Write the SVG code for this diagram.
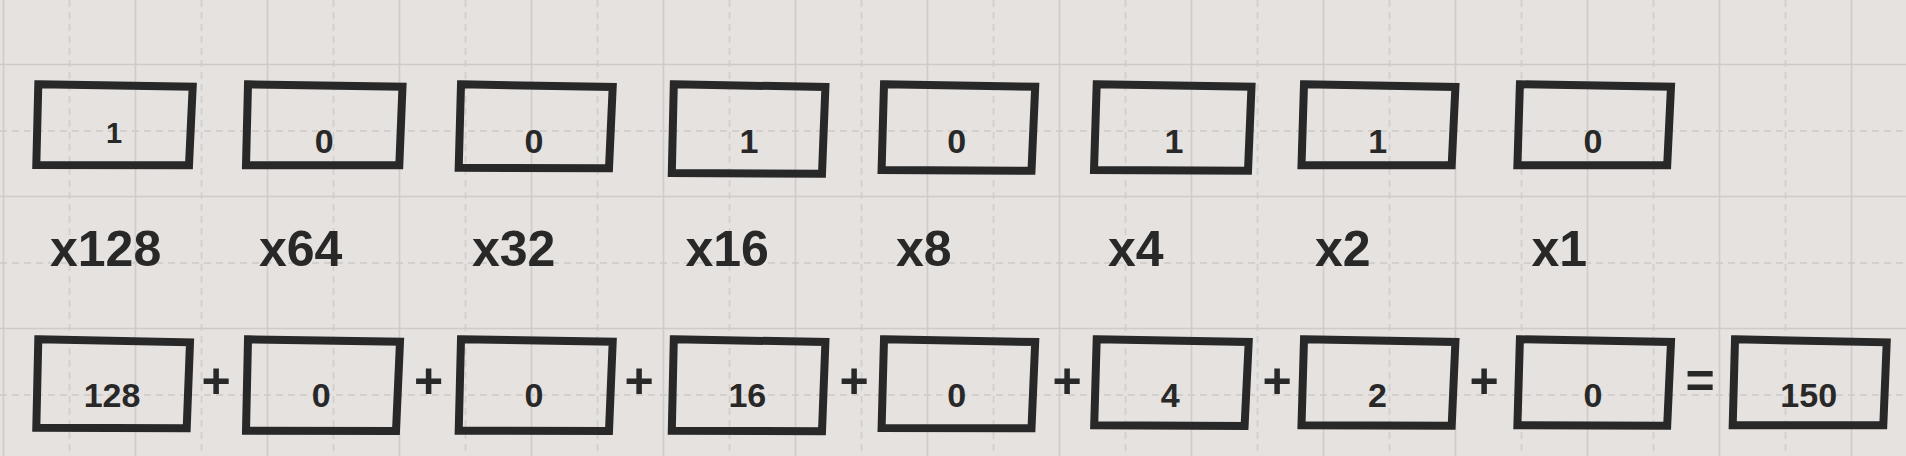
<svg xmlns="http://www.w3.org/2000/svg" width="1906" height="456" viewBox="0 0 1906 456">
<style>
.bg{fill:#e6e2e0}
.gs{stroke:#d0cbc9;stroke-width:1.6;fill:none}
.gd{stroke:#d3cfcd;stroke-width:1.8;stroke-dasharray:7 5;fill:none}
.box{fill:none;stroke:#282828;stroke-width:8;stroke-linejoin:miter}
.v{font-family:"Liberation Sans",Arial,Helvetica,sans-serif;font-weight:bold;font-size:34px;fill:#282828;text-anchor:middle}
.lbl{font-family:"Liberation Sans",Arial,Helvetica,sans-serif;font-weight:bold;font-size:50px;fill:#282828}
.op{font-family:"Liberation Sans",Arial,Helvetica,sans-serif;font-weight:bold;font-size:50px;fill:#282828;text-anchor:middle}
</style>
<rect class="bg" x="0" y="0" width="1906" height="456"/>
<g id="grid">
<path class="gd" d="M69.5 0V456M201.5 0V456M333.5 0V456M465.5 0V456M597.5 0V456M729.5 0V456M861.5 0V456M993.5 0V456M1125.5 0V456M1257.5 0V456M1389.5 0V456M1521.5 0V456M1653.5 0V456M1785.5 0V456"/>
<path class="gd" d="M0 131H1906M0 263H1906M0 395H1906"/>
<path class="gs" d="M3.5 0V456M135.5 0V456M267.5 0V456M399.5 0V456M531.5 0V456M663.5 0V456M795.5 0V456M927.5 0V456M1059.5 0V456M1191.5 0V456M1323.5 0V456M1455.5 0V456M1587.5 0V456M1719.5 0V456M1851.5 0V456"/>
<path class="gs" d="M0 64.5H1906M0 196.5H1906M0 328.5H1906"/>
</g>
<g id="bits">
<g id="t1"><polygon class="box" points="38.3,84.3 192.7,86.7 189,165.3 36.3,165"/><text class="v" x="114" y="143" style="font-size:29px">1</text></g>
<g id="t2"><polygon class="box" points="248,84.3 402.5,86.7 399.3,165.3 246,165.3"/><text class="v" x="324.3" y="152.7">0</text></g>
<g id="t3"><polygon class="box" points="461,84.3 612.7,87 609,168.3 458.7,167.7"/><text class="v" x="534" y="152.7">0</text></g>
<g id="t4"><polygon class="box" points="673.8,84.3 825.4,87 822,173.7 671.8,173"/><text class="v" x="749" y="152.7">1</text></g>
<g id="t5"><polygon class="box" points="884,84.3 1035.2,86.7 1031.5,170.7 881.6,170"/><text class="v" x="956.7" y="152.7">0</text></g>
<g id="t6"><polygon class="box" points="1096.7,84.3 1251.5,86.7 1248,170.7 1094,170"/><text class="v" x="1174" y="152.7">1</text></g>
<g id="t7"><polygon class="box" points="1304,84.3 1455.4,87 1451.7,165.3 1301.5,165.3"/><text class="v" x="1377.6" y="152.7">1</text></g>
<g id="t8"><polygon class="box" points="1519.9,84.3 1671,86.7 1667.2,165.3 1517.4,165.3"/><text class="v" x="1593" y="152.7">0</text></g>
</g>
<g id="weights">
<text class="lbl" x="50" y="266">x128</text>
<text class="lbl" x="259" y="266">x64</text>
<text class="lbl" x="472" y="266">x32</text>
<text class="lbl" x="685.5" y="266">x16</text>
<text class="lbl" x="896" y="266">x8</text>
<text class="lbl" x="1108" y="266">x4</text>
<text class="lbl" x="1315" y="266">x2</text>
<text class="lbl" x="1531.5" y="266">x1</text>
</g>
<g id="sums">
<g id="b1"><polygon class="box" points="38.3,339.3 190,342.3 186.7,428.3 36.3,427.7"/><text class="v" x="112" y="406.6">128</text></g>
<g id="b2"><polygon class="box" points="248,339.3 400,341.7 396,431 246,430.7"/><text class="v" x="321.2" y="406.6">0</text></g>
<g id="b3"><polygon class="box" points="461,339.3 612.7,341.7 609,431 458.7,430.7"/><text class="v" x="533.9" y="406.6">0</text></g>
<g id="b4"><polygon class="box" points="673.8,339.3 825.4,342 822,431.3 671.8,430.7"/><text class="v" x="747.3" y="406.6">16</text></g>
<g id="b5"><polygon class="box" points="884,339.3 1035.2,342 1031.5,428.3 881.6,428"/><text class="v" x="956.7" y="406.6">0</text></g>
<g id="b6"><polygon class="box" points="1096.7,339.3 1248.7,342 1244.6,426 1094.2,425.3"/><text class="v" x="1170.2" y="406.6">4</text></g>
<g id="b7"><polygon class="box" points="1304,339.3 1455.4,342 1451.7,425.7 1301.5,425.3"/><text class="v" x="1377.4" y="406.6">2</text></g>
<g id="b8"><polygon class="box" points="1519.9,339.3 1671,342 1667.2,425.7 1517.4,425.3"/><text class="v" x="1593" y="406.6">0</text></g>
<g id="b9"><polygon class="box" points="1735,339.3 1886.7,342.3 1883.3,425.3 1732.7,425.3"/><text class="v" x="1808.7" y="406.6">150</text></g>
</g>
<g id="operators">
<text class="op" x="216.2" y="397.5">+</text>
<text class="op" x="428.6" y="397.5">+</text>
<text class="op" x="639" y="397.5">+</text>
<text class="op" x="854" y="397.5">+</text>
<text class="op" x="1067" y="397.5">+</text>
<text class="op" x="1277" y="397.5">+</text>
<text class="op" x="1484" y="397.5">+</text>
<text class="op" x="1700" y="397.5">=</text>
</g>
</svg>
